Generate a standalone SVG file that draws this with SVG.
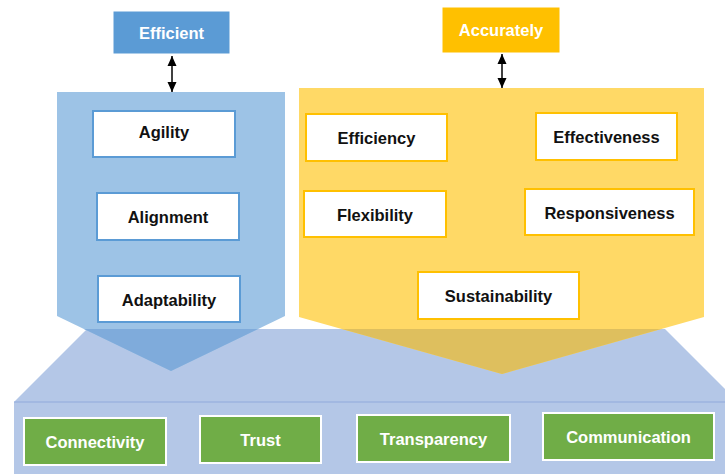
<svg xmlns="http://www.w3.org/2000/svg" width="725" height="474" viewBox="0 0 725 474">
<defs>
<marker id="ah" viewBox="0 0 10 10" refX="10" refY="5" markerWidth="10" markerHeight="10" markerUnits="userSpaceOnUse" orient="auto-start-reverse">
<path d="M0,0.5 L10,5 L0,9.5 Z" fill="#000"/>
</marker>
</defs>
<style>
text{font-family:"Liberation Sans",Arial,sans-serif;font-weight:bold;font-size:16.5px;text-anchor:middle}
.wt{fill:#fff}
.bt{fill:#111}
.ib{fill:#fff;stroke:#5B9BD5;stroke-width:2}
.iy{fill:#fff;stroke:#FFC000;stroke-width:2}
.gb{fill:#70AD47;stroke:#fff;stroke-width:2}
.conn{stroke:#000;stroke-width:1.5;fill:none}
</style>
<g id="base">
<polygon points="87,329 665,329 725,389 725,402 14,402" fill="#B4C7E7"/>
<rect x="14" y="402" width="711" height="72" fill="#B4C7E7"/>
<line x1="14" y1="402" x2="725" y2="402" stroke="#8FAADC" stroke-width="1.2"/>
</g>
<g id="blue-pentagon">
<polygon points="57,92 285,92 285,316 171,371 57,316" fill="#9DC3E6"/>
<polygon points="84,329 258,329 171,371" fill="#7FABDB"/>
</g>
<g id="yellow-pentagon">
<polygon points="299,88 704,88 704,317 502,374 299,317" fill="#FFD966"/>
<polygon points="342,329 661,329 502,374" fill="#DEBF5E"/>
</g>
<g id="efficient">
<rect x="113" y="11" width="117" height="43" fill="#5B9BD5" stroke="#fff" stroke-width="1"/>
<text class="wt" x="171.5" y="38.5">Efficient</text>
</g>
<g id="accurately">
<rect x="442" y="7" width="118" height="46" fill="#FFC000" stroke="#fff" stroke-width="1"/>
<text class="wt" x="501" y="35.5">Accurately</text>
</g>
<g id="agility">
<rect class="ib" x="93" y="111" width="142" height="46"/>
<text class="bt" x="164" y="137.5">Agility</text>
</g>
<g id="alignment">
<rect class="ib" x="97" y="193" width="142" height="47"/>
<text class="bt" x="168" y="222.5">Alignment</text>
</g>
<g id="adaptability">
<rect class="ib" x="98" y="276" width="142" height="46"/>
<text class="bt" x="169" y="305.5">Adaptability</text>
</g>
<g id="efficiency">
<rect class="iy" x="306" y="114" width="141" height="47"/>
<text class="bt" x="376.5" y="143.5">Efficiency</text>
</g>
<g id="effectiveness">
<rect class="iy" x="536" y="113" width="141" height="47"/>
<text class="bt" x="606.5" y="142.5">Effectiveness</text>
</g>
<g id="flexibility">
<rect class="iy" x="304" y="191" width="142" height="46"/>
<text class="bt" x="375" y="220.5">Flexibility</text>
</g>
<g id="responsiveness">
<rect class="iy" x="525" y="189" width="169" height="46"/>
<text class="bt" x="609.5" y="218.5">Responsiveness</text>
</g>
<g id="sustainability">
<rect class="iy" x="418" y="272" width="161" height="47"/>
<text class="bt" x="498.5" y="301.5">Sustainability</text>
</g>
<g id="connectivity">
<rect class="gb" x="24" y="418" width="142" height="47"/>
<text class="wt" x="95" y="447.5">Connectivity</text>
</g>
<g id="trust">
<rect class="gb" x="200" y="416" width="121" height="47"/>
<text class="wt" x="260.5" y="445.5">Trust</text>
</g>
<g id="transparency">
<rect class="gb" x="357" y="415" width="153" height="47"/>
<text class="wt" x="433.5" y="444.5">Transparency</text>
</g>
<g id="communication">
<rect class="gb" x="543" y="413" width="171" height="47"/>
<text class="wt" x="628.5" y="442.5">Communication</text>
</g>
<g id="connectors">
<line class="conn" x1="172" y1="56" x2="172" y2="92" marker-start="url(#ah)" marker-end="url(#ah)"/>
<line class="conn" x1="502" y1="54" x2="502" y2="88" marker-start="url(#ah)" marker-end="url(#ah)"/>
</g>
</svg>
